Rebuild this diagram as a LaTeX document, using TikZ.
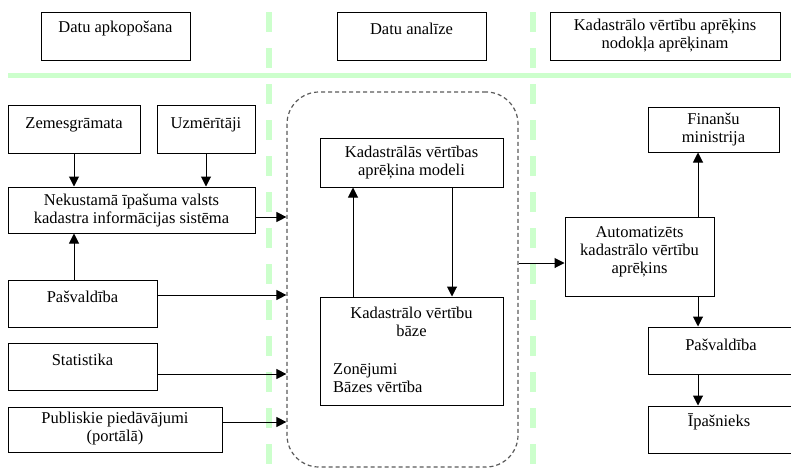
\documentclass[tikz,border=0pt]{standalone}
\usepackage{fontspec}
\setmainfont{Liberation Serif}
\usetikzlibrary{arrows.meta,fit}
\definecolor{lgreen}{RGB}{204,255,204}
\definecolor{framegray}{RGB}{90,90,90}
\tikzset{
  box/.style={draw=black, line width=1pt, inner sep=0pt},
  txt/.style={inner sep=0pt, align=center, font=\fontsize{16.5}{18}\selectfont},
  arr/.style={draw=black, line width=1pt, -{Triangle[length=10pt,width=10pt]}},
  gline/.style={draw=lgreen, line width=5pt},
  gdash/.style={draw=lgreen, line width=5.5pt, dash pattern=on 20pt off 16pt},
  frame/.style={draw=framegray, line width=1.2pt, dash pattern=on 4pt off 3pt, rounded corners=32pt, inner sep=0pt}
}
\begin{document}
\begin{tikzpicture}[x=1pt,y=-1pt]
\useasboundingbox (0,0) rectangle (791,469);
% green separators
\draw[gline] (8,75) -- (791,75);
\draw[gdash] (269,12) -- (269,469);
\draw[gdash] (533,12) -- (533,469);
% header boxes
\node[box, fit={(41,12) (190,60)}] (h1) {};
\node[txt] (h1t) at (115.5,29) {Datu apkopošana};
\node[box, fit={(337,12) (486,60)}] (h2) {};
\node[txt] (h2t) at (411.5,29) {Datu analīze};
\node[box, fit={(550,12) (780,60)}] (h3) {};
\node[txt] (h3t) at (665,36) {Kadastrālo vērtību aprēķins\\nodokļa aprēķinam};
% left column
\node[box, fit={(8,105) (140,153)}] (zem) {};
\node[txt] (zemt) at (74,125) {Zemesgrāmata};
\node[box, fit={(157,105) (255,153)}] (uzm) {};
\node[txt] (uzmt) at (206,125) {Uzmērītāji};
\node[box, fit={(8,187) (255,233)}] (nek) {};
\node[txt] (nekt) at (131.5,211) {Nekustamā īpašuma valsts\\kadastra informācijas sistēma};
\node[box, fit={(8,280) (157,327)}] (pas) {};
\node[txt] (past) at (82.5,297) {Pašvaldība};
\node[box, fit={(8,343) (157,390)}] (sta) {};
\node[txt] (stat) at (82.5,360) {Statistika};
\node[box, fit={(8,407) (222,452)}] (pub) {};
\node[txt] (pubt) at (115,429) {Publiskie piedāvājumi\\(portālā)};
% middle
\node[frame, fit={(287,92) (518,467)}] (fr) {};
\node[box, fit={(320,138) (503,187)}] (mod) {};
\node[txt] (modt) at (411.5,163) {Kadastrālās vērtības\\aprēķina modeli};
\node[box, fit={(320,297) (503,405)}] (baz) {};
\node[txt] (bazt) at (411.5,322) {Kadastrālo vērtību\\bāze};
\node[txt, anchor=west, align=left] (bazz) at (333,378) {Zonējumi\\Bāzes vērtība};
% right column
\node[box, fit={(648,107) (779,152)}] (fin) {};
\node[txt] (fint) at (713.5,130) {Finanšu\\ministrija};
\node[box, fit={(565,217) (714,296)}] (aut) {};
\node[txt] (autt) at (639.5,252) {Automatizēts\\kadastrālo vērtību\\aprēķins};
\node[box, fit={(648,327) (794,374)}] (pas2) {};
\node[txt] (pas2t) at (721,345) {Pašvaldība};
\node[box, fit={(648,406) (794,453)}] (ipa) {};
\node[txt] (ipat) at (719,422) {Īpašnieks};
% connectors
\draw[arr] (zem.south -| 74,0) -- (nek.north -| 74,0);
\draw[arr] (uzm.south -| 206,0) -- (nek.north -| 206,0);
\draw[arr] (pas.north -| 74,0) -- (nek.south -| 74,0);
\draw[arr] (nek.east |- 0,217) -- (fr.west |- 0,217);
\draw[arr] (pas.east |- 0,295) -- (fr.west |- 0,295);
\draw[arr] (sta.east |- 0,374) -- (fr.west |- 0,374);
\draw[arr] (pub.east |- 0,422) -- (fr.west |- 0,422);
\draw[arr] (mod.south -| 452,0) -- (baz.north -| 452,0);
\draw[arr] (baz.north -| 353,0) -- (mod.south -| 353,0);
\draw[arr] (fr.east |- 0,263) -- (aut.west |- 0,263);
\draw[arr] (aut.north -| 698,0) -- (fin.south -| 698,0);
\draw[arr] (aut.south -| 698,0) -- (pas2.north -| 698,0);
\draw[arr] (pas2.south -| 698,0) -- (ipa.north -| 698,0);
\end{tikzpicture}
\end{document}
